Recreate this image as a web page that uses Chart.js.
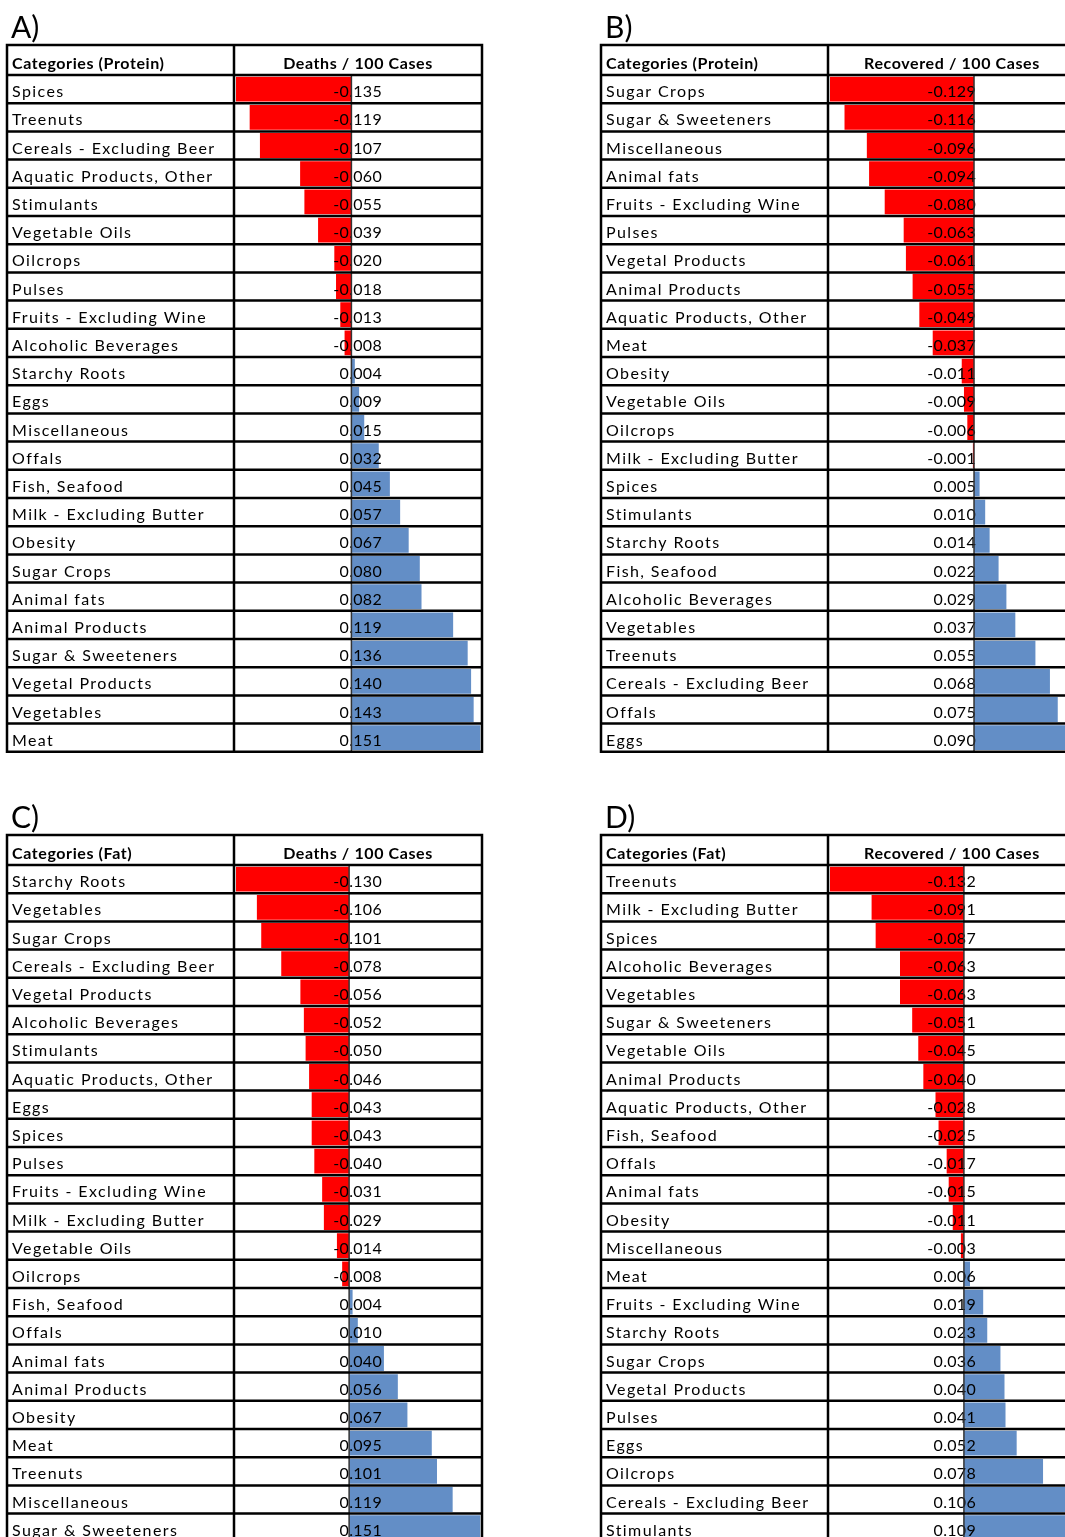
<!DOCTYPE html>
<html>
<head>
<meta charset="utf-8">
<script src="https://cdn.jsdelivr.net/npm/chart.js@4.4.1/dist/chart.umd.min.js"></script>
<style>
  html, body { margin: 0; padding: 0; background: #fff; overflow: hidden; }
  #page { position: relative; width: 1065px; height: 1537px; overflow: hidden; background: #fff; }
  .panel { position: absolute; width: 500px; height: 770px; }
</style>
</head>
<body>
<div id="page">
  <div class="panel" style="left:0px;top:0px"><canvas id="chartA" width="500" height="770"></canvas></div>
  <div class="panel" style="left:594px;top:0px"><canvas id="chartB" width="500" height="770"></canvas></div>
  <div class="panel" style="left:0px;top:790px"><canvas id="chartC" width="500" height="770"></canvas></div>
  <div class="panel" style="left:594px;top:790px"><canvas id="chartD" width="500" height="770"></canvas></div>
</div>
<script>
// Panel A - protein, deaths
const labelsA = ['Spices', 'Treenuts', 'Cereals - Excluding Beer', 'Aquatic Products, Other', 'Stimulants',
  'Vegetable Oils', 'Oilcrops', 'Pulses', 'Fruits - Excluding Wine', 'Alcoholic Beverages', 'Starchy Roots',
  'Eggs', 'Miscellaneous', 'Offals', 'Fish, Seafood', 'Milk - Excluding Butter', 'Obesity', 'Sugar Crops',
  'Animal fats', 'Animal Products', 'Sugar & Sweeteners', 'Vegetal Products', 'Vegetables', 'Meat'];
const valuesA = [-0.135, -0.119, -0.107, -0.060, -0.055, -0.039, -0.020, -0.018, -0.013, -0.008, 0.004,
  0.009, 0.015, 0.032, 0.045, 0.057, 0.067, 0.080, 0.082, 0.119, 0.136, 0.140, 0.143, 0.151];

// Panel B - protein, recovered
const labelsB = ['Sugar Crops', 'Sugar & Sweeteners', 'Miscellaneous', 'Animal fats', 'Fruits - Excluding Wine',
  'Pulses', 'Vegetal Products', 'Animal Products', 'Aquatic Products, Other', 'Meat', 'Obesity',
  'Vegetable Oils', 'Oilcrops', 'Milk - Excluding Butter', 'Spices', 'Stimulants', 'Starchy Roots',
  'Fish, Seafood', 'Alcoholic Beverages', 'Vegetables', 'Treenuts', 'Cereals - Excluding Beer', 'Offals', 'Eggs'];
const valuesB = [-0.129, -0.116, -0.096, -0.094, -0.080, -0.063, -0.061, -0.055, -0.049, -0.037, -0.011,
  -0.009, -0.006, -0.001, 0.005, 0.010, 0.014, 0.022, 0.029, 0.037, 0.055, 0.068, 0.075, 0.090];

// Panel C - fat, deaths
const labelsC = ['Starchy Roots', 'Vegetables', 'Sugar Crops', 'Cereals - Excluding Beer', 'Vegetal Products',
  'Alcoholic Beverages', 'Stimulants', 'Aquatic Products, Other', 'Eggs', 'Spices', 'Pulses',
  'Fruits - Excluding Wine', 'Milk - Excluding Butter', 'Vegetable Oils', 'Oilcrops', 'Fish, Seafood', 'Offals',
  'Animal fats', 'Animal Products', 'Obesity', 'Meat', 'Treenuts', 'Miscellaneous', 'Sugar & Sweeteners'];
const valuesC = [-0.130, -0.106, -0.101, -0.078, -0.056, -0.052, -0.050, -0.046, -0.043, -0.043, -0.040,
  -0.031, -0.029, -0.014, -0.008, 0.004, 0.010, 0.040, 0.056, 0.067, 0.095, 0.101, 0.119, 0.151];

// Panel D - fat, recovered
const labelsD = ['Treenuts', 'Milk - Excluding Butter', 'Spices', 'Alcoholic Beverages', 'Vegetables',
  'Sugar & Sweeteners', 'Vegetable Oils', 'Animal Products', 'Aquatic Products, Other', 'Fish, Seafood', 'Offals',
  'Animal fats', 'Obesity', 'Miscellaneous', 'Meat', 'Fruits - Excluding Wine', 'Starchy Roots', 'Sugar Crops',
  'Vegetal Products', 'Pulses', 'Eggs', 'Oilcrops', 'Cereals - Excluding Beer', 'Stimulants'];
const valuesD = [-0.132, -0.091, -0.087, -0.063, -0.063, -0.051, -0.045, -0.040, -0.028, -0.025, -0.017,
  -0.015, -0.011, -0.003, 0.006, 0.019, 0.023, 0.036, 0.040, 0.041, 0.052, 0.078, 0.106, 0.109];

const panelLetters = ['A)', 'B)', 'C)', 'D)'];
const categoryHeads = ['Categories (Protein)', 'Categories (Protein)', 'Categories (Fat)', 'Categories (Fat)'];
const valueHeads = ['Deaths / 100 Cases', 'Recovered / 100 Cases', 'Deaths / 100 Cases', 'Recovered / 100 Cases'];

const RED = '#FF0000';
const BLUE = '#638EC6';
const FONT = 'Lato, "Open Sans", sans-serif';

// table frame inside each canvas
const T = { left: 7, divider: 234, right: 482, top: 45, headBottom: 75, rowH: 28.2 };

// draws the table grid, texts and the zero line over the bars
const tablePlugin = {
  id: 'tableGrid',
  afterDatasetsDraw(chart, args, opts) {
    const { ctx, scales: { x, y } } = chart;
    const labels = chart.data.labels;
    const values = chart.data.datasets[0].data;
    const band = y.getPixelForValue(1) - y.getPixelForValue(0);
    const rowsTop = y.getPixelForValue(0) - band / 2;
    const rowsBottom = y.getPixelForValue(labels.length - 1) + band / 2;

    ctx.save();

    // panel letter
    ctx.fillStyle = '#000';
    ctx.font = '30px ' + FONT;
    ctx.textAlign = 'left';
    ctx.textBaseline = 'alphabetic';
    ctx.fillText(opts.letter, 11, 38);

    // header texts
    ctx.font = 'bold 16px ' + FONT;
    ctx.textBaseline = 'middle';
    ctx.letterSpacing = '0.6px';
    ctx.fillText(opts.catHead, T.left + 5, (T.top + T.headBottom) / 2 + 3.5);
    ctx.textAlign = 'center';
    ctx.fillText(opts.valHead, (T.divider + T.right) / 2, (T.top + T.headBottom) / 2 + 3.5);

    // category labels
    ctx.textAlign = 'left';
    ctx.font = '16px ' + FONT;
    ctx.letterSpacing = '1.4px';
    labels.forEach((lab, i) => {
      ctx.fillText(lab, T.left + 5, y.getPixelForValue(i) + 3);
    });

    // value labels
    ctx.letterSpacing = '0.3px';
    ctx.textAlign = 'right';
    values.forEach((v, i) => {
      ctx.fillText(v.toFixed(3), T.divider + 148, y.getPixelForValue(i) + 3);
    });
    ctx.letterSpacing = '0px';

    // zero line
    const x0 = x.getPixelForValue(0);
    ctx.strokeStyle = '#333';
    ctx.lineWidth = 1.5;
    ctx.beginPath();
    ctx.moveTo(x0, rowsTop);
    ctx.lineTo(x0, rowsBottom);
    ctx.stroke();

    // grid
    ctx.strokeStyle = '#000';
    ctx.lineWidth = 2.5;
    ctx.beginPath();
    for (let k = 0; k <= labels.length; k++) {
      const yy = rowsTop + k * band;
      ctx.moveTo(T.left, yy);
      ctx.lineTo(T.right, yy);
    }
    ctx.moveTo(T.left, T.top);
    ctx.lineTo(T.right, T.top);
    [T.left, T.divider, T.right].forEach(xx => {
      ctx.moveTo(xx, T.top - 1.25);
      ctx.lineTo(xx, rowsBottom + 1.25);
    });
    ctx.stroke();

    ctx.restore();
  }
};

function makePanel(id, idx, labels, values) {
  const canvas = document.getElementById(id);
  const rowsBottom = T.headBottom + T.rowH * labels.length;
  return new Chart(canvas, {
    type: 'bar',
    data: {
      labels: labels,
      datasets: [{
        data: values,
        backgroundColor: values.map(v => v < 0 ? RED : BLUE),
        borderWidth: 0,
        categoryPercentage: 1,
        barPercentage: 0.88
      }]
    },
    options: {
      indexAxis: 'y',
      responsive: false,
      animation: false,
      events: [],
      layout: {
        padding: { left: 236, right: 500 - 480.5, top: T.headBottom, bottom: 770 - rowsBottom }
      },
      scales: {
        x: { display: false, min: Math.min(...values), max: Math.max(...values) },
        y: { display: false }
      },
      plugins: {
        legend: { display: false },
        tooltip: { enabled: false },
        tableGrid: { letter: panelLetters[idx], catHead: categoryHeads[idx], valHead: valueHeads[idx] }
      }
    },
    plugins: [tablePlugin]
  });
}

makePanel('chartA', 0, labelsA, valuesA);
makePanel('chartB', 1, labelsB, valuesB);
makePanel('chartC', 2, labelsC, valuesC);
makePanel('chartD', 3, labelsD, valuesD);
</script>
</body>
</html>
